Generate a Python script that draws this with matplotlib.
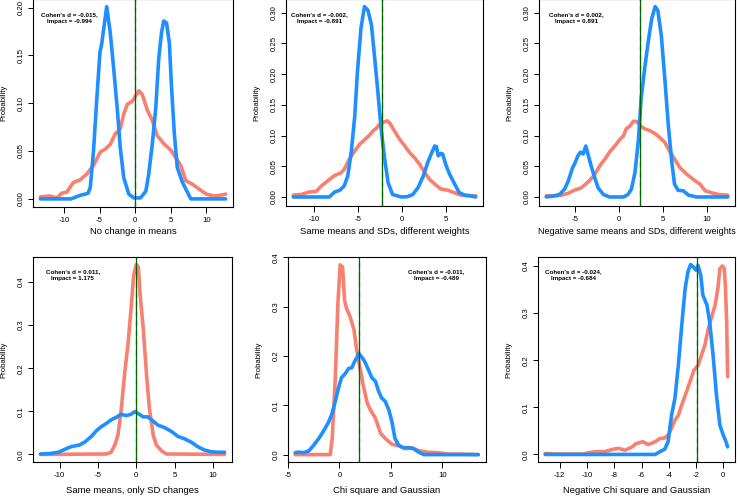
# Six density comparisons (red vs blue) with mean lines, R base-graphics look

import matplotlib
matplotlib.use("Agg")
import matplotlib.pyplot as plt
from matplotlib.ticker import MultipleLocator, FormatStrFormatter

plt.rcParams['font.family'] = ['Liberation Sans', 'DejaVu Sans']
plt.rcParams['axes.unicode_minus'] = False

# ---- panel 1: no change in means
p1_red_x = [-13.3, -12.0, -11.0, -10.3, -9.6, -8.7, -7.7, -6.8, -5.85, -4.9, -4.2, -3.5, -2.8, -2.1, -1.6, -1.1,
            -0.4, 0.0, 0.5, 1.0, 1.7, 2.4, 3.1, 4.1, 5.0, 5.7, 6.4, 7.1, 8.1, 9.0, 10.0, 11.1, 12.1, 12.7]
p1_red_y = [0.002, 0.003, 0.001, 0.006, 0.007, 0.017, 0.02, 0.026, 0.035, 0.049, 0.052, 0.057, 0.068, 0.073, 0.089,
            0.099, 0.102, 0.107, 0.113, 0.109, 0.093, 0.082, 0.066, 0.057, 0.051, 0.043, 0.035, 0.019, 0.015, 0.010,
            0.005, 0.003, 0.004, 0.005]
p1_blue_x = [-13.3, -9.0, -7.6, -7.0, -6.6, -6.3, -5.85, -5.4, -4.95, -4.7, -4.0, -3.5, -3.0, -2.5, -2.1, -1.6, -0.9,
             -0.2, 0.75, 1.5, 1.9, 2.4, 2.9, 3.3, 3.7, 4.0, 4.4, 4.8, 5.1, 5.5, 5.9, 6.65, 7.4, 7.8, 12.7]
p1_blue_y = [0, 0, 0.004, 0.005, 0.006, 0.012, 0.05, 0.103, 0.153, 0.162, 0.201, 0.174, 0.135, 0.093, 0.054, 0.022,
             0.005, 0.001, 0.001, 0.008, 0.026, 0.057, 0.096, 0.146, 0.174, 0.186, 0.184, 0.163, 0.117, 0.068, 0.033,
             0.017, 0.006, 0, 0]

# ---- panel 2: same means and SDs, different weights
p2_red_x = [-12.4, -11.5, -10.6, -9.8, -9.2, -8.5, -7.7, -7.0, -6.6, -6.0, -5.4, -4.9, -4.3, -3.7, -3.3, -3.0, -2.6,
            -2.1, -1.7, -1.4, -0.9, -0.3, 0.3, 0.8, 1.4, 2.0, 2.5, 3.1, 3.7, 4.4, 5.2, 5.9, 6.7, 7.5, 8.37]
p2_red_y = [0.003, 0.004, 0.008, 0.009, 0.018, 0.026, 0.035, 0.039, 0.045, 0.062, 0.075, 0.085, 0.093, 0.101, 0.108,
            0.111, 0.118, 0.122, 0.124, 0.12, 0.108, 0.094, 0.083, 0.073, 0.064, 0.053, 0.041, 0.029, 0.021, 0.013,
            0.011, 0.007, 0.003, 0.002, 0.002]
p2_blue_x = [-12.4, -8.3, -7.7, -7.1, -6.6, -6.2, -5.8, -5.4, -5.1, -4.7, -4.3, -3.9, -3.5, -3.2, -2.8, -2.4, -2.0,
             -1.6, -1.1, -0.1, 0.6, 1.2, 1.8, 2.4, 2.9, 3.3, 3.7, 3.9, 4.1, 4.4, 4.6, 5.0, 5.4, 5.8, 6.2, 6.5, 7.1,
             7.7, 8.37]
p2_blue_y = [0, 0, 0.008, 0.011, 0.018, 0.034, 0.073, 0.132, 0.203, 0.274, 0.31, 0.304, 0.28, 0.236, 0.176, 0.111,
             0.062, 0.023, 0.004, 0, 0.0005, 0.004, 0.015, 0.034, 0.056, 0.07, 0.083, 0.082, 0.067, 0.071, 0.07,
             0.051, 0.037, 0.026, 0.015, 0.007, 0.003, 0.002, 0]

# ---- panel 3: negative same means and SDs, different weights
p3_red_x = [-8.3, -7.3, -6.6, -5.8, -5.1, -4.3, -3.5, -2.8, -2.2, -1.6, -1.1, -0.5, 0.1, 0.5, 0.8, 1.2, 1.6, 2.0,
            2.4, 2.9, 3.5, 4.1, 4.6, 5.2, 5.8, 6.3, 6.9, 7.7, 8.4, 9.2, 9.8, 10.5, 11.3, 12.37]
p3_red_y = [0.002, 0.002, 0.003, 0.006, 0.011, 0.015, 0.025, 0.036, 0.051, 0.062, 0.073, 0.083, 0.094, 0.1, 0.111,
            0.115, 0.123, 0.123, 0.116, 0.111, 0.108, 0.103, 0.097, 0.089, 0.073, 0.062, 0.048, 0.037, 0.029, 0.021,
            0.01, 0.007, 0.004, 0.003]
p3_blue_x = [-8.3, -7.3, -6.8, -6.2, -5.8, -5.3, -5.1, -4.7, -4.4, -4.1, -3.8, -3.5, -3.2, -2.8, -2.4, -1.8, -1.1,
             0.5, 1.0, 1.4, 1.8, 2.2, 2.5, 2.9, 3.3, 3.7, 4.1, 4.4, 4.8, 5.2, 5.6, 6.0, 6.3, 6.7, 7.3, 7.9, 8.8, 12.37]
p3_blue_y = [0, 0.002, 0.004, 0.013, 0.026, 0.048, 0.053, 0.067, 0.073, 0.07, 0.083, 0.067, 0.051, 0.032, 0.015,
             0.004, 0, 0, 0.004, 0.013, 0.04, 0.094, 0.16, 0.209, 0.252, 0.29, 0.31, 0.304, 0.263, 0.192, 0.116,
             0.056, 0.021, 0.011, 0.01, 0.003, 0, 0]

# ---- panel 4: same means, only SD changes
p4_red_x = [-12.5, -3.9, -3.3, -2.8, -2.4, -2.0, -1.5, -1.1, -0.65, -0.35, 0.0, 0.26, 0.5, 0.9, 1.3, 1.7, 2.2, 2.6,
            3.3, 3.9, 11.5]
p4_red_y = [0, 0.001, 0.005, 0.022, 0.045, 0.099, 0.192, 0.253, 0.346, 0.415, 0.44, 0.435, 0.369, 0.292, 0.192,
            0.107, 0.045, 0.022, 0.008, 0.001, 0]
p4_blue_x = [-12.5, -11.3, -10.2, -9.3, -8.5, -7.4, -6.7, -5.9, -5.2, -4.6, -3.9, -3.3, -2.6, -2.0, -1.3, -0.7, -0.2,
             0.2, 0.9, 1.5, 2.2, 2.8, 3.7, 4.6, 5.4, 6.3, 7.2, 8.0, 8.9, 9.8, 10.7, 11.5]
p4_blue_y = [0.001, 0.002, 0.005, 0.012, 0.018, 0.022, 0.029, 0.041, 0.055, 0.064, 0.072, 0.08, 0.086, 0.093, 0.09,
             0.093, 0.099, 0.095, 0.087, 0.087, 0.077, 0.068, 0.062, 0.053, 0.042, 0.036, 0.028, 0.018, 0.01, 0.006,
             0.005, 0.005]

# ---- panel 5: chi square and gaussian
p5_red_x = [-4.3, -0.9, -0.7, -0.4, -0.15, 0.07, 0.3, 0.5, 0.7, 1.0, 1.4, 1.7, 2.0, 2.3, 2.7, 3.0, 3.5, 4.0, 4.45,
            5.1, 5.75, 6.4, 7.05, 7.7, 8.5, 9.5, 10.6, 11.9, 13.5]
p5_red_y = [0, 0, 0.033, 0.156, 0.306, 0.385, 0.381, 0.313, 0.296, 0.282, 0.255, 0.21, 0.176, 0.142, 0.105, 0.091,
            0.074, 0.043, 0.033, 0.021, 0.018, 0.012, 0.014, 0.008, 0.005, 0.004, 0.001, 0.001, 0]
p5_blue_x = [-4.3, -4.0, -3.5, -3.0, -2.5, -2.0, -1.6, -1.1, -0.75, -0.4, -0.1, 0.2, 0.55, 0.9, 1.2, 1.5, 1.9, 2.2,
             2.5, 2.8, 3.15, 3.5, 3.8, 4.1, 4.45, 4.8, 5.1, 5.4, 5.75, 6.2, 6.7, 7.2, 7.7, 8.2, 13.5]
p5_blue_y = [0.004, 0.005, 0.004, 0.007, 0.019, 0.033, 0.046, 0.064, 0.081, 0.108, 0.135, 0.156, 0.164, 0.175,
             0.176, 0.19, 0.205, 0.197, 0.187, 0.173, 0.156, 0.149, 0.129, 0.115, 0.108, 0.091, 0.067, 0.033, 0.019,
             0.014, 0.014, 0.012, 0.005, 0, 0]

# ---- panel 6: negative chi square and gaussian
p6_red_x = [-13.07, -12.25, -11.3, -10.3, -9.8, -9.3, -8.7, -8.1, -7.7, -7.2, -6.7, -6.4, -5.9, -5.5, -5.0, -4.65,
            -4.3, -4.05, -3.8, -3.55, -3.3, -3.05, -2.7, -2.45, -2.15, -1.85, -1.6, -1.35, -1.1, -0.85, -0.6, -0.4,
            -0.25, -0.07, 0.07, 0.15, 0.25, 0.32]
p6_red_y = [0.002, 0.001, 0.001, 0.001, 0.004, 0.006, 0.006, 0.011, 0.013, 0.009, 0.016, 0.023, 0.027, 0.021, 0.027,
            0.034, 0.035, 0.041, 0.055, 0.073, 0.083, 0.105, 0.133, 0.154, 0.179, 0.189, 0.211, 0.232, 0.267, 0.292,
            0.317, 0.352, 0.394, 0.4, 0.395, 0.36, 0.28, 0.165]
p6_blue_x = [-13.07, -5.0, -4.65, -4.3, -4.05, -3.8, -3.55, -3.3, -3.05, -2.8, -2.6, -2.4, -2.2, -2.0, -1.85, -1.65,
             -1.5, -1.2, -1.0, -0.75, -0.5, -0.25, 0.0, 0.2, 0.32]
p6_blue_y = [0, 0, 0.006, 0.011, 0.027, 0.083, 0.119, 0.189, 0.274, 0.352, 0.387, 0.403, 0.398, 0.391, 0.401, 0.38,
             0.338, 0.317, 0.281, 0.211, 0.126, 0.062, 0.041, 0.027, 0.016]

red_x = [p1_red_x, p2_red_x, p3_red_x, p4_red_x, p5_red_x, p6_red_x]
red_y = [p1_red_y, p2_red_y, p3_red_y, p4_red_y, p5_red_y, p6_red_y]
blue_x = [p1_blue_x, p2_blue_x, p3_blue_x, p4_blue_x, p5_blue_x, p6_blue_x]
blue_y = [p1_blue_y, p2_blue_y, p3_blue_y, p4_blue_y, p5_blue_y, p6_blue_y]

# means of the two distributions (solid / dashed green lines)
mean_solid = [0.0, -2.3, 2.35, 0.0, 1.95, -1.9]
mean_dashed = [-0.07, -2.31, 2.36, 0.02, 1.93, -1.95]

xlabels = ["No change in means", "Same means and SDs, different weights",
           "Negative same means and SDs, different weights", "Same means, only SD changes",
           "Chi square and Gaussian", "Negative Chi square and Gaussian"]
cohens_d = ["-0.015", "-0.002", "0.002", "0.011", "-0.011", "-0.024"]
impact = ["-0.994", "-0.891", "0.891", "1.175", "-0.489", "-0.684"]

# layout in pixels: left, top, right, bottom of each box
W, H = 740, 496
boxes = [(33, -1, 233, 207), (286, -1, 483, 206), (539, -1, 735, 206),
         (33, 257, 232, 462), (288, 257, 486, 462), (538, 257, 735, 462)]
xlims = [(-14.34, 13.73), (-13.23, 9.2), (-9.13, 13.19), (-13.48, 12.48), (-5.0, 14.25), (-13.6, 0.86)]
ylims = [(-0.0085, 0.209), (-0.0147, 0.3224), (-0.0147, 0.3224), (-0.0176, 0.4576), (-0.015, 0.401), (-0.016, 0.419)]
xsteps = [5, 5, 5, 5, 5, 2]
ysteps = [0.05, 0.05, 0.05, 0.1, 0.1, 0.1]
yfmts = ['%.2f', '%.2f', '%.2f', '%.1f', '%.1f', '%.1f']
text_x = [0.18, 0.17, 0.19, 0.2, 0.75, 0.18]
xlab_off = [25, 25, 25, 29, 29, 29]
xlab_size = [6.8, 6.8, 6.5, 6.8, 6.8, 6.8]

fig = plt.figure(figsize=(7.4, 4.96), dpi=100)

for i in range(6):
    l, t, r, b = boxes[i]
    ax = fig.add_axes([l / W, 1 - b / H, (r - l) / W, (b - t) / H])
    ax.plot(red_x[i], red_y[i], color='#f8806f', lw=2.6, solid_capstyle='round', solid_joinstyle='round')
    ax.plot(blue_x[i], blue_y[i], color='#1f8fff', lw=2.6, solid_capstyle='round', solid_joinstyle='round')
    ax.axvline(mean_dashed[i], color='#5cb85c', lw=1.0, ls=(0, (4, 3)))
    ax.axvline(mean_solid[i], color='darkgreen', lw=0.9)
    ax.set_xlim(xlims[i])
    ax.set_ylim(ylims[i])
    ax.xaxis.set_major_locator(MultipleLocator(xsteps[i]))
    ax.yaxis.set_major_locator(MultipleLocator(ysteps[i]))
    ax.yaxis.set_major_formatter(FormatStrFormatter(yfmts[i]))
    ax.tick_params(direction='out', length=4.3, width=0.7, labelsize=5.6, pad=3)
    ax.tick_params(axis='y', labelrotation=90, length=3.5, pad=2.2)
    for lab in ax.get_yticklabels():
        lab.set_verticalalignment('center')
    for s in ax.spines.values():
        s.set_linewidth(0.8)
        s.set_color('black')
    ax.set_xlabel(xlabels[i], fontsize=xlab_size[i], va='center')
    ax.xaxis.set_label_coords(0.5, -xlab_off[i] / (b - t))
    ax.set_ylabel("Probability", fontsize=5.6, va='center')
    ax.yaxis.set_label_coords(-29 / (r - l), 0.5)
    ax.text(text_x[i], 0.91, "Cohen's d = " + cohens_d[i] + ",\nImpact = " + impact[i],
            transform=ax.transAxes, ha='center', va='center', fontsize=4.5, fontweight='bold',
            linespacing=1.45)

fig.savefig("out.png", dpi=100)
